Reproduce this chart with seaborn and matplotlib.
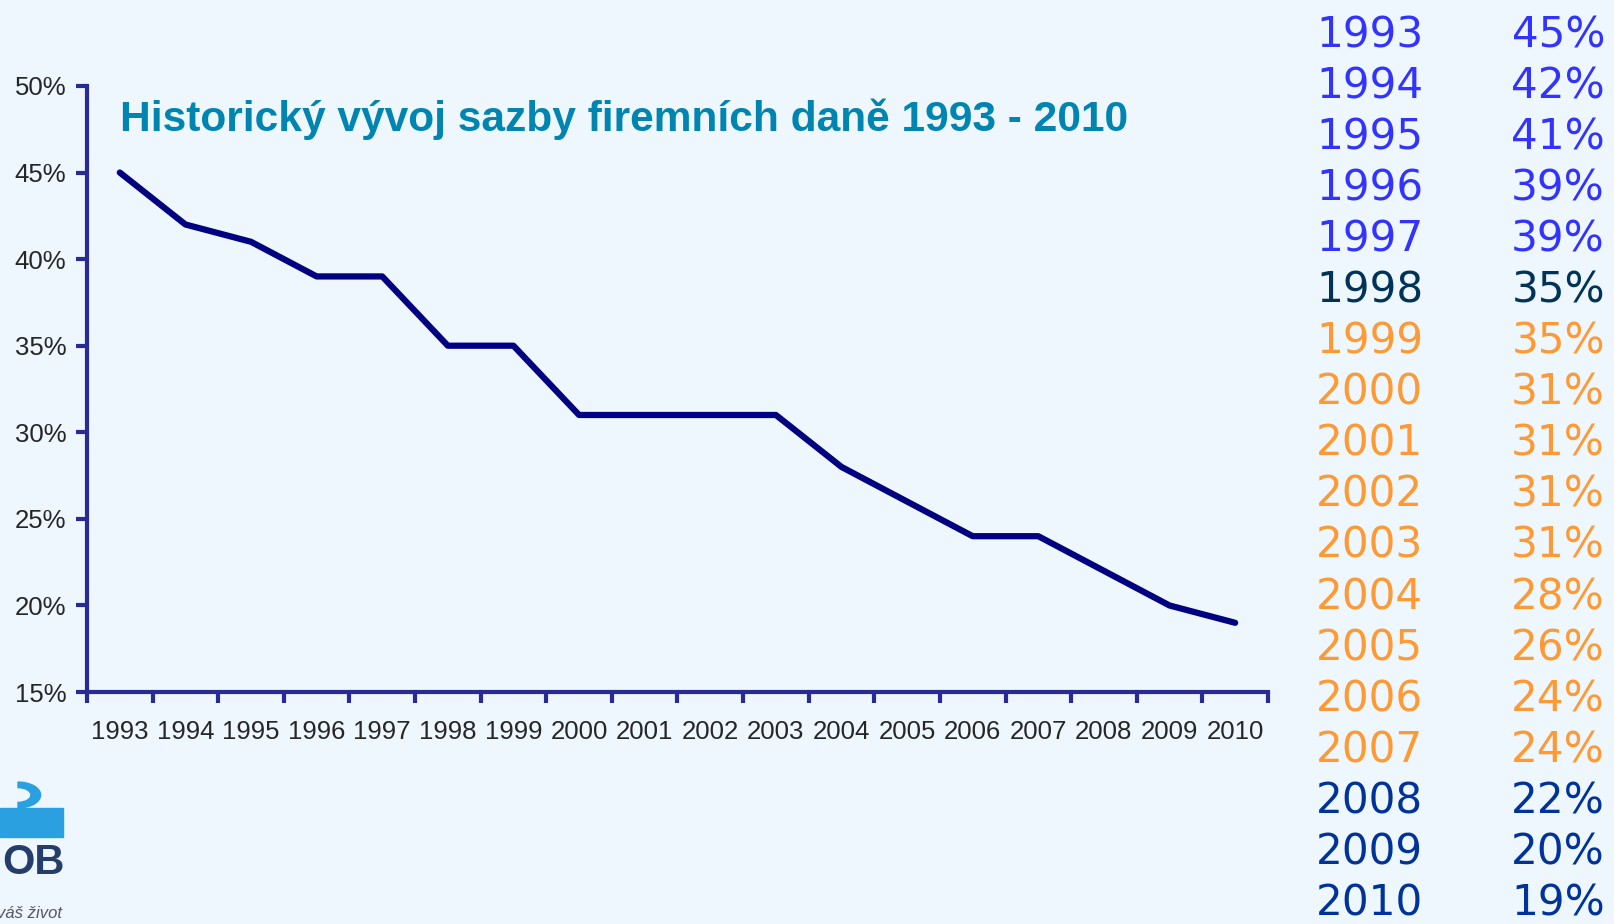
#!/usr/bin/env python3

import pandas as pd
import matplotlib.pyplot as plt
import matplotlib.patches as mpatches
import seaborn as sns

years = [1993, 1994, 1995, 1996, 1997, 1998, 1999, 2000, 2001,
         2002, 2003, 2004, 2005, 2006, 2007, 2008, 2009, 2010]
rates = [45, 42, 41, 39, 39, 35, 35, 31, 31, 31, 31, 28, 26, 24, 24, 22, 20, 19]
table_colors = ["#3333ff"] * 5 + ["#003355"] + ["#ff9933"] * 9 + ["#003399"] * 3
title = "Historický vývoj sazby firemních daně 1993 - 2010"
y_ticks = [15, 20, 25, 30, 35, 40, 45, 50]

bg = "#eef6fe"
axis_col = "#2a2a96"

sns.set_style("white")
plt.rcParams["font.family"] = ["Liberation Sans", "DejaVu Sans"]

df = pd.DataFrame({"year": [str(y) for y in years], "rate": rates})
df["pos"] = range(len(df))

fig = plt.figure(figsize=(16.14, 9.24), dpi=100, facecolor=bg)
ax = fig.add_axes([0.0539, 0.251, 0.7317, 0.656])
ax.set_facecolor(bg)

sns.lineplot(data=df, x="pos", y="rate", ax=ax, color="#000080",
             linewidth=4.5, solid_capstyle="round", solid_joinstyle="round")

ax.set_xlim(-0.5, len(years) - 0.5)
ax.set_ylim(15, 50)
ax.set_xticks(df["pos"])
ax.set_xticklabels(df["year"], fontsize=18.5)
ax.set_xticks([p - 0.5 for p in range(len(years) + 1)], minor=True)
ax.set_yticks(y_ticks)
ax.set_yticklabels([f"{v}%" for v in y_ticks], fontsize=18.5)
ax.tick_params(axis="x", which="major", bottom=True, length=0, pad=20)
ax.tick_params(axis="x", which="minor", bottom=True, length=8, width=3,
               color=axis_col, direction="out")
ax.tick_params(axis="y", left=True, length=8, width=3, color=axis_col,
               direction="out", pad=7)
for side in ["top", "right"]:
    ax.spines[side].set_visible(False)
for side in ["left", "bottom"]:
    ax.spines[side].set_color(axis_col)
    ax.spines[side].set_linewidth(3)
ax.set_xlabel("")
ax.set_ylabel("")

ax.text(0.028, 0.945, title, transform=ax.transAxes, fontsize=30.6,
        fontweight="bold", color="#0085b0", va="center", ha="left")

# table on the right
for i, (y, r) in enumerate(zip(years, rates)):
    ypix = 35 + i * 51.1
    yf = 1 - ypix / 924
    fig.text(1316 / 1614, yf, str(y), fontsize=30.3, color=table_colors[i],
             family="DejaVu Sans", ha="left", va="center")
    fig.text(1605 / 1614, yf, f"{r}%", fontsize=30.3, color=table_colors[i],
             family="DejaVu Sans", ha="right", va="center")

# partial logo at bottom left
fig.patches.append(mpatches.Rectangle((0, 1 - 837 / 924), 63 / 1614, 29 / 924,
                                      transform=fig.transFigure,
                                      color="#2aa0e0", zorder=1))
fig.patches.append(mpatches.Wedge((18 / 1614, 1 - 795 / 924), 0.014, -90, 90,
                                  width=0.006, transform=fig.transFigure,
                                  color="#2aa0e0", zorder=1))
fig.text(2 / 1614, 1 - 863 / 924, "OB", fontsize=30, fontweight="bold",
         color="#243d6b", ha="left", va="center")
fig.text(62 / 1614, 1 - 913 / 924, "váš život", fontsize=12, style="italic",
         color="#555566", ha="right", va="center")

fig.savefig("out.png", dpi=100, facecolor=bg)
